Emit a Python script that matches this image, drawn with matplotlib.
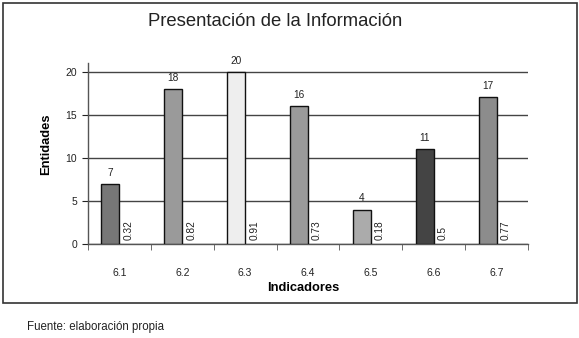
import matplotlib
matplotlib.use("Agg")
import matplotlib.pyplot as plt
from matplotlib.patches import Rectangle

categories = ["6.1", "6.2", "6.3", "6.4", "6.5", "6.6", "6.7"]
entidades = [7, 18, 20, 16, 4, 11, 17]
ratios = ["0.32", "0.82", "0.91", "0.73", "0.18", "0.5", "0.77"]
bar_colors = ["#777777", "#9a9a9a", "#eeeeee", "#9a9a9a", "#ababab", "#444444", "#8c8c8c"]

plt.rcParams['font.family'] = ['Liberation Sans', 'DejaVu Sans']

fig = plt.figure(figsize=(5.79, 3.38), dpi=100)
W, H = 579, 338

# outer frame
fig.patches.append(Rectangle((3 / W, 1 - 303 / H), 574 / W, 300 / H, transform=fig.transFigure,
                             fill=False, edgecolor="#333333", linewidth=1.2))

ax = fig.add_axes([88 / W, 1 - 244 / H, 440 / W, 181 / H])
n = len(categories)
x = list(range(n))
w = 0.286
ax.bar([i - w / 2 for i in x], entidades, width=w, color=bar_colors,
       edgecolor="#111111", linewidth=1.0, zorder=3)

for i, v in enumerate(entidades):
    ax.text(i - w / 2, v + 0.7, str(v), ha="center", va="bottom", fontsize=7.3, color="#222222")
    ax.text(i + w / 2, 0.45, ratios[i], ha="center", va="bottom", rotation=90,
            fontsize=7.3, color="#222222")

ax.set_xlim(-0.5, n - 0.5)
ax.set_ylim(0, 21)
ax.set_yticks([0, 5, 10, 15, 20])
ax.yaxis.grid(True, color="#444444", linewidth=1.0, zorder=0)
ax.set_axisbelow(True)
ax.set_xticks(x)
ax.set_xticklabels(categories)
ax.set_xticks([i - 0.5 for i in range(n + 1)], minor=True)
ax.tick_params(axis="x", which="major", length=0, pad=17, labelsize=7.5, colors="#222222")
ax.tick_params(axis="x", which="minor", length=4, direction="out", color="#555555")
ax.tick_params(axis="y", length=4, labelsize=7.5, colors="#222222", pad=4)
for s in ["top", "right"]:
    ax.spines[s].set_visible(False)
for s in ["left", "bottom"]:
    ax.spines[s].set_color("#555555")
    ax.spines[s].set_linewidth(1.0)

ax.set_ylabel("Entidades", fontsize=9.3, fontweight="bold")
ax.yaxis.set_label_coords(-0.082, 0.55)
ax.set_xlabel("Indicadores", fontsize=9.3, fontweight="bold")
ax.xaxis.set_label_coords(0.49, -0.21)

fig.text(275 / W, 1 - 22 / H, "Presentación de la Información",
         ha="center", va="center", fontsize=13.3, color="#222222")

fig.text(27 / W, 1 - 327 / H, "Fuente: elaboración propia", ha="left", va="center",
         fontsize=8.3, color="#222222", family=["Liberation Sans Narrow", "Liberation Sans", "DejaVu Sans"])

fig.savefig("out.png", dpi=100)
